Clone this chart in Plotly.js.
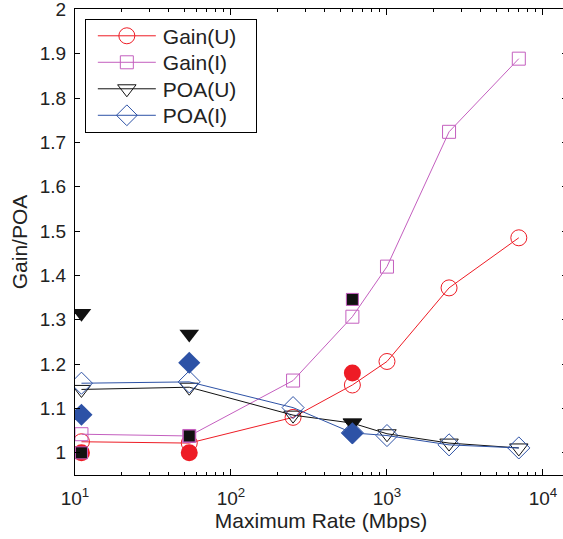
<!DOCTYPE html>
<html>
<head>
<meta charset="utf-8">
<script src="https://cdn.plot.ly/plotly-3.0.1.min.js"></script>
<style>
html,body{margin:0;padding:0;overflow:hidden;background:#fff;}
#chart{width:568px;height:539px;}
</style>
</head>
<body>
<div id="chart"></div>
<script>
// Data (x in Mbps, log axis)
const rates = [11, 54, 250, 600, 1000, 2500, 7000];
const gainU = [1.025, 1.022, 1.080, 1.153, 1.206, 1.372, 1.485];
const gainI = [1.042, 1.038, 1.163, 1.307, 1.420, 1.724, 1.889];
const poaU  = [1.143, 1.148, 1.085, 1.067, 1.043, 1.022, 1.011];
const poaI  = [1.157, 1.160, 1.102, 1.045, 1.039, 1.018, 1.011];

const ratesFilled = [11, 54, 600];
const gainUFilled = [1.000, 1.000, 1.180];
const gainIFilled = [1.000, 1.038, 1.346];
const poaUFilled  = [1.315, 1.268, 1.068];
const poaIFilled  = [1.086, 1.203, 1.044];

const xTickVals = [10, 100, 1000, 10000];
const xTickText = ['10<sup>1</sup>', '10<sup>2</sup>', '10<sup>3</sup>', '10<sup>4</sup>'];
const xMinorVals = [20,30,40,50,60,70,80,90,200,300,400,500,600,700,800,900,2000,3000,4000,5000,6000,7000,8000,9000];
const yTickVals = [1, 1.1, 1.2, 1.3, 1.4, 1.5, 1.6, 1.7, 1.8, 1.9, 2];

const RED = '#ee1c25', MAG = '#c45fbf', BLK = '#111111', BLU = '#2d52a6';

function openTrace(name, y, color, symbol, size) {
  return {
    x: rates, y: y, name: name, type: 'scatter', mode: 'lines+markers',
    line: {color: color, width: 1},
    marker: {symbol: symbol, size: size, color: color, line: {color: color, width: 1}}
  };
}
function filledTrace(y, color, symbol, size, edge) {
  return {
    x: ratesFilled, y: y, type: 'scatter', mode: 'markers', showlegend: false,
    marker: {symbol: symbol, size: size, color: color, line: {color: edge || color, width: edge ? 1 : 0}}
  };
}

const traces = [
  openTrace('Gain(U)', gainU, RED, 'circle-open', 16),
  openTrace('Gain(I)', gainI, MAG, 'square-open', 13),
  openTrace('POA(U)', poaU, BLK, 'triangle-down-open', 16),
  openTrace('POA(I)', poaI, BLU, 'diamond-open', 17),
  filledTrace(gainUFilled, RED, 'circle', 17),
  filledTrace(gainIFilled, BLK, 'square', 12, MAG),
  filledTrace(poaUFilled, BLK, 'triangle-down', 17),
  filledTrace(poaIFilled, BLU, 'diamond', 17)
];

const FAM = 'Liberation Sans, Arial, sans-serif';
const TITLEFONT = {family: FAM, size: 21, color: '#222'};
const TICKFONT = {family: FAM, size: 19, color: '#222'};

const layout = {
  width: 568, height: 539,
  margin: {l: 75, r: 1, t: 9, b: 64},
  paper_bgcolor: '#fff', plot_bgcolor: '#fff',
  font: TITLEFONT,
  showlegend: true,
  legend: {
    x: 0.02, y: 0.979, xanchor: 'left', yanchor: 'top',
    bordercolor: '#000', borderwidth: 1, bgcolor: '#fff',
    font: TITLEFONT, itemwidth: 67, tracegroupgap: 0
  },
  xaxis: {
    type: 'log', range: [1, 4.154],
    tickvals: xTickVals, ticktext: xTickText,
    ticks: 'inside', ticklen: 6, tickcolor: '#000',
    showline: true, linecolor: '#000', linewidth: 1, mirror: 'ticks',
    showgrid: false, zeroline: false,
    ticklabelstandoff: 6, ticklabeloverflow: 'allow',
    minor: {tickvals: xMinorVals, ticks: 'inside', ticklen: 3, tickcolor: '#000', showgrid: false},
    title: {text: 'Maximum Rate (Mbps)', font: TITLEFONT, standoff: 4},
    tickfont: TICKFONT
  },
  yaxis: {
    range: [0.95, 2.001],
    tickvals: yTickVals,
    ticks: 'inside', ticklen: 5, tickcolor: '#000',
    showline: true, linecolor: '#000', linewidth: 1, mirror: 'ticks',
    showgrid: false, zeroline: false,
    ticklabelstandoff: 4, ticklabeloverflow: 'allow',
    title: {text: 'Gain/POA', font: TITLEFONT, standoff: 6},
    tickfont: TICKFONT
  }
};

Plotly.newPlot('chart', traces, layout, {displayModeBar: false, staticPlot: true}).then(function (gd) {
  // widen the legend sample line and centre its marker, like the reference legend
  gd.querySelectorAll('.legend .legendlines path').forEach(function (p) {
    p.setAttribute('d', 'M12,0h58');
  });
  gd.querySelectorAll('.legend .legendpoints path').forEach(function (p) {
    p.setAttribute('transform', 'translate(41,0)');
  });
  // tighter legend rows and box size as in the reference
  const items = gd.querySelectorAll('.legend .traces');
  items.forEach(function (g, i) {
    const m = /translate\(([-\d.]+)[ ,]+([-\d.]+)\)/.exec(g.getAttribute('transform') || '');
    const tx = m ? parseFloat(m[1]) : 1;
    g.setAttribute('transform', 'translate(' + tx + ',' + (17 + 26.5 * i) + ')');
  });
  const bg = gd.querySelector('.legend rect.bg');
  if (bg) { bg.setAttribute('width', 171); bg.setAttribute('height', 113); }
});
</script>
</body>
</html>
